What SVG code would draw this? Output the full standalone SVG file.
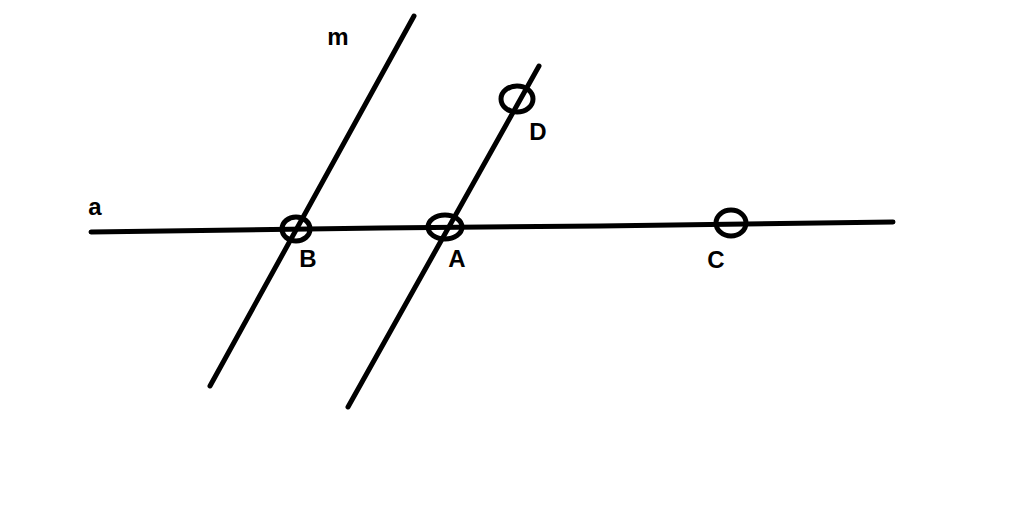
<svg xmlns="http://www.w3.org/2000/svg" width="1024" height="513" viewBox="0 0 1024 513">
<style>
.ln{stroke:#000;stroke-width:5;fill:none;stroke-linecap:round}
.pt{stroke:#000;stroke-width:5;fill:none}
.lb{font-family:"Liberation Sans",Arial,sans-serif;font-weight:bold;font-size:24px;fill:#000;text-anchor:middle}
</style>
<rect width="1024" height="513" fill="#fff"/>
<g id="connectors">
<polyline class="ln" points="91,232 380,228 600,226 893,222"/>
<line class="ln" x1="414" y1="16" x2="210" y2="386"/>
<line class="ln" x1="539" y1="66" x2="348" y2="407"/>
</g>
<g id="node-B"><ellipse class="pt" cx="296" cy="229" rx="14" ry="12"/><text class="lb" x="308" y="267">B</text></g>
<g id="node-A"><ellipse class="pt" cx="445" cy="227" rx="17" ry="12"/><text class="lb" x="457" y="267">A</text></g>
<g id="node-D"><ellipse class="pt" cx="517" cy="99" rx="16" ry="13"/><text class="lb" x="538" y="140">D</text></g>
<g id="node-C"><ellipse class="pt" cx="731" cy="223" rx="15" ry="13"/><text class="lb" x="716" y="268">C</text></g>
<g id="label-a"><text class="lb" x="95" y="215">a</text></g>
<g id="label-m"><text class="lb" x="338" y="45">m</text></g>
</svg>
